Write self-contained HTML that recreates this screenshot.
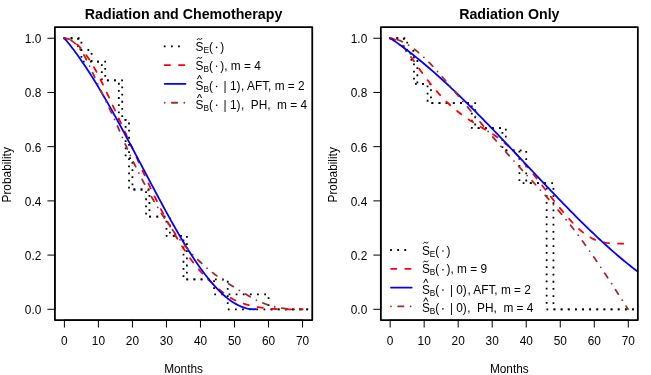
<!DOCTYPE html>
<html><head><meta charset="utf-8"><title>Survival curves</title>
<style>html,body{margin:0;padding:0;background:#fff}svg{display:block;will-change:transform;opacity:0.999}text{font-family:"Liberation Sans",sans-serif}</style></head>
<body>
<svg width="651" height="375" viewBox="0 0 651 375">
<rect width="651" height="375" fill="#fff"/>
<defs>
<clipPath id="c0"><rect x="54.90" y="27.20" width="257.35" height="292.85"/></clipPath>
<clipPath id="c1"><rect x="380.85" y="27.20" width="257.00" height="292.85"/></clipPath>
</defs>
<g clip-path="url(#c0)" fill="none" stroke-width="1.784" stroke-linecap="round" stroke-linejoin="round">
<path d="M64.40 38.25 L78.01 38.25 L78.01 49.99 L81.41 49.99 L81.41 61.72 L101.82 61.72 L101.82 80.48 L118.83 80.48 L118.83 119.89 L125.64 119.89 L125.64 158.14 L129.04 158.14 L129.04 189.50 L146.05 189.50 L146.05 216.57 L166.46 216.57 L166.46 235.79 L183.47 235.79 L183.47 279.38 L214.09 279.38 L214.09 294.34 L227.70 294.34 L227.70 309.30 L307.30 309.30" stroke="#000" stroke-linecap="square" stroke-dasharray="0 7.137"/>
<path d="M64.40 38.25 L81.41 38.25 L81.41 49.99 L91.62 49.99 L91.62 61.72 L105.22 61.72 L105.22 80.48 L122.23 80.48 L122.23 119.89 L129.04 119.89 L129.04 158.14 L132.44 158.14 L132.44 189.50 L149.45 189.50 L149.45 216.57 L169.86 216.57 L169.86 235.79 L186.87 235.79 L186.87 279.38 L227.70 279.38 L227.70 294.34 L268.52 294.34 L268.52 309.30 L307.30 309.30" stroke="#000" stroke-linecap="square" stroke-dasharray="0 7.137"/>
<path d="M64.40 38.25 L66.11 38.33 L67.83 38.76 L69.54 39.39 L71.25 40.22 L72.96 41.24 L74.68 42.45 L76.39 43.84 L78.10 45.40 L79.82 47.13 L81.53 49.03 L83.24 51.09 L84.96 53.30 L86.67 55.66 L88.38 58.17 L90.09 60.81 L91.81 63.59 L93.52 66.50 L95.23 69.53 L96.95 72.68 L98.66 75.95 L100.37 79.31 L102.08 82.77 L103.80 86.29 L105.51 89.87 L107.22 93.51 L108.94 97.17 L110.65 100.87 L112.36 104.58 L114.08 108.30 L115.79 112.03 L117.50 115.75 L119.21 119.47 L120.93 123.20 L122.64 126.92 L124.35 130.65 L126.07 134.38 L127.78 138.12 L129.49 141.86 L131.21 145.62 L132.92 149.39 L134.63 153.17 L136.34 156.95 L138.06 160.74 L139.77 164.53 L141.48 168.31 L143.20 172.08 L144.91 175.83 L146.62 179.56 L148.33 183.26 L150.05 186.93 L151.76 190.57 L153.47 194.16 L155.19 197.70 L156.90 201.20 L158.61 204.64 L160.33 208.02 L162.04 211.34 L163.75 214.62 L165.46 217.83 L167.18 221.00 L168.89 224.12 L170.60 227.18 L172.32 230.20 L174.03 233.16 L175.74 236.07 L177.45 238.93 L179.17 241.74 L180.88 244.49 L182.59 247.18 L184.31 249.81 L186.02 252.38 L187.73 254.89 L189.45 257.33 L191.16 259.71 L192.87 262.02 L194.58 264.26 L196.30 266.44 L198.01 268.53 L199.72 270.56 L201.44 272.51 L203.15 274.38 L204.86 276.17 L206.57 277.90 L208.29 279.57 L210.00 281.20 L211.71 282.79 L213.43 284.36 L215.14 285.90 L216.85 287.42 L218.57 288.90 L220.28 290.33 L221.99 291.73 L223.70 293.07 L225.42 294.35 L227.13 295.57 L228.84 296.72 L230.56 297.79 L232.27 298.79 L233.98 299.71 L235.69 300.56 L237.41 301.34 L239.12 302.06 L240.83 302.72 L242.55 303.33 L244.26 303.90 L245.97 304.41 L247.69 304.89 L249.40 305.34 L251.11 305.75 L252.82 306.13 L254.54 306.49 L256.25 306.82 L257.96 307.13 L259.68 307.41 L261.39 307.66 L263.10 307.90 L264.82 308.11 L266.53 308.31 L268.24 308.48 L269.95 308.63 L271.67 308.77 L273.38 308.89 L275.09 308.99 L276.81 309.08 L278.52 309.15 L280.23 309.22 L281.94 309.27 L283.66 309.30 L285.37 309.30 L287.08 309.30 L288.80 309.30 L290.51 309.30 L292.22 309.30 L293.94 309.30 L295.65 309.30 L297.36 309.30 L299.07 309.30 L300.79 309.27 L302.50 309.25" stroke="#ff0000" stroke-dasharray="5.353 8.921"/>
<path d="M64.40 38.25 L65.78 39.83 L67.16 41.49 L68.53 43.19 L69.91 44.92 L71.29 46.68 L72.67 48.48 L74.04 50.30 L75.42 52.16 L76.80 54.05 L78.18 55.97 L79.55 57.91 L80.93 59.89 L82.31 61.89 L83.69 63.92 L85.07 65.98 L86.44 68.06 L87.82 70.17 L89.20 72.30 L90.58 74.46 L91.95 76.64 L93.33 78.84 L94.71 81.06 L96.09 83.31 L97.46 85.58 L98.84 87.87 L100.22 90.17 L101.60 92.50 L102.98 94.85 L104.35 97.21 L105.73 99.59 L107.11 101.99 L108.49 104.40 L109.86 106.83 L111.24 109.28 L112.62 111.73 L114.00 114.20 L115.37 116.69 L116.75 119.19 L118.13 121.70 L119.51 124.21 L120.89 126.75 L122.26 129.29 L123.64 131.84 L125.02 134.39 L126.40 136.96 L127.77 139.53 L129.15 142.11 L130.53 144.70 L131.91 147.29 L133.28 149.89 L134.66 152.49 L136.04 155.10 L137.42 157.71 L138.80 160.32 L140.17 162.93 L141.55 165.54 L142.93 168.16 L144.31 170.77 L145.68 173.39 L147.06 176.00 L148.44 178.61 L149.82 181.22 L151.19 183.83 L152.57 186.43 L153.95 189.03 L155.33 191.62 L156.71 194.21 L158.08 196.79 L159.46 199.36 L160.84 201.93 L162.22 204.49 L163.59 207.03 L164.97 209.57 L166.35 212.10 L167.73 214.61 L169.11 217.12 L170.48 219.60 L171.86 222.07 L173.24 224.53 L174.62 226.97 L175.99 229.38 L177.37 231.78 L178.75 234.16 L180.13 236.52 L181.50 238.86 L182.88 241.17 L184.26 243.45 L185.64 245.72 L187.02 247.95 L188.39 250.16 L189.77 252.34 L191.15 254.49 L192.53 256.61 L193.90 258.70 L195.28 260.76 L196.66 262.79 L198.04 264.79 L199.41 266.75 L200.79 268.68 L202.17 270.57 L203.55 272.43 L204.93 274.25 L206.30 276.03 L207.68 277.78 L209.06 279.49 L210.44 281.16 L211.81 282.79 L213.19 284.37 L214.57 285.92 L215.95 287.42 L217.32 288.88 L218.70 290.30 L220.08 291.67 L221.46 293.00 L222.84 294.28 L224.21 295.51 L225.59 296.70 L226.97 297.84 L228.35 298.93 L229.72 299.96 L231.10 300.95 L232.48 301.89 L233.86 302.77 L235.23 303.60 L236.61 304.38 L237.99 305.10 L239.37 305.77 L240.75 306.38 L242.12 306.94 L243.50 307.44 L244.88 307.87 L246.26 308.25 L247.63 308.58 L249.01 308.84 L250.39 309.03 L251.77 309.17 L253.14 309.24 L254.52 309.25 L255.90 309.20" stroke="#0000ff"/>
<path d="M64.40 38.25 L66.11 38.30 L67.83 38.75 L69.54 39.46 L71.25 40.41 L72.96 41.61 L74.68 43.07 L76.39 44.77 L78.10 46.72 L79.82 48.91 L81.53 51.36 L83.24 54.04 L84.96 56.97 L86.67 60.14 L88.38 63.55 L90.09 67.15 L91.81 70.89 L93.52 74.71 L95.23 78.56 L96.95 82.38 L98.66 86.12 L100.37 89.78 L102.08 93.37 L103.80 96.92 L105.51 100.44 L107.22 103.95 L108.94 107.49 L110.65 111.06 L112.36 114.70 L114.08 118.42 L115.79 122.24 L117.50 126.18 L119.21 130.22 L120.93 134.27 L122.64 138.22 L124.35 142.09 L126.07 145.97 L127.78 149.84 L129.49 153.63 L131.21 157.33 L132.92 160.95 L134.63 164.50 L136.34 168.00 L138.06 171.45 L139.77 174.85 L141.48 178.21 L143.20 181.52 L144.91 184.78 L146.62 187.99 L148.33 191.15 L150.05 194.25 L151.76 197.30 L153.47 200.30 L155.19 203.24 L156.90 206.12 L158.61 208.95 L160.33 211.72 L162.04 214.43 L163.75 217.10 L165.46 219.70 L167.18 222.26 L168.89 224.76 L170.60 227.21 L172.32 229.61 L174.03 231.96 L175.74 234.26 L177.45 236.51 L179.17 238.71 L180.88 240.86 L182.59 242.96 L184.31 245.02 L186.02 247.03 L187.73 248.99 L189.45 250.91 L191.16 252.78 L192.87 254.61 L194.58 256.40 L196.30 258.14 L198.01 259.84 L199.72 261.49 L201.44 263.11 L203.15 264.69 L204.86 266.22 L206.57 267.72 L208.29 269.17 L210.00 270.59 L211.71 271.97 L213.43 273.31 L215.14 274.62 L216.85 275.89 L218.57 277.12 L220.28 278.32 L221.99 279.49 L223.70 280.63 L225.42 281.75 L227.13 282.85 L228.84 283.92 L230.56 284.99 L232.27 286.04 L233.98 287.08 L235.69 288.12 L237.41 289.15 L239.12 290.19 L240.83 291.22 L242.55 292.26 L244.26 293.30 L245.97 294.32 L247.69 295.33 L249.40 296.32 L251.11 297.29 L252.82 298.23 L254.54 299.13 L256.25 300.00 L257.96 300.83 L259.68 301.61 L261.39 302.35 L263.10 303.05 L264.82 303.71 L266.53 304.33 L268.24 304.90 L269.95 305.44 L271.67 305.94 L273.38 306.41 L275.09 306.83 L276.81 307.22 L278.52 307.58 L280.23 307.90 L281.94 308.18 L283.66 308.44 L285.37 308.66 L287.08 308.85 L288.80 309.01 L290.51 309.14 L292.22 309.23 L293.94 309.30 L295.65 309.30 L297.36 309.30 L299.07 309.30 L300.79 309.30 L302.50 309.25" stroke="#a52a2a" stroke-dasharray="0 7.137 5.353 7.137"/>
</g>
<g stroke="#000" stroke-width="1.000" fill="none" stroke-linecap="round">
<path d="M64.40 320.05 H302.54"/>
<path d="M64.40 320.05 v7.1"/>
<path d="M98.42 320.05 v7.1"/>
<path d="M132.44 320.05 v7.1"/>
<path d="M166.46 320.05 v7.1"/>
<path d="M200.48 320.05 v7.1"/>
<path d="M234.50 320.05 v7.1"/>
<path d="M268.52 320.05 v7.1"/>
<path d="M302.54 320.05 v7.1"/>
<path d="M54.90 309.30 V38.25"/>
<path d="M54.90 309.30 h-7.1"/>
<path d="M54.90 255.09 h-7.1"/>
<path d="M54.90 200.88 h-7.1"/>
<path d="M54.90 146.67 h-7.1"/>
<path d="M54.90 92.46 h-7.1"/>
<path d="M54.90 38.25 h-7.1"/>
</g>
<rect x="54.90" y="27.20" width="257.35" height="292.85" fill="none" stroke="#000" stroke-width="1.784" stroke-linejoin="round"/>
<g font-family="Liberation Sans, sans-serif" font-size="11.85" fill="#000">
<text x="64.40" y="344.5" text-anchor="middle">0</text>
<text x="98.42" y="344.5" text-anchor="middle">10</text>
<text x="132.44" y="344.5" text-anchor="middle">20</text>
<text x="166.46" y="344.5" text-anchor="middle">30</text>
<text x="200.48" y="344.5" text-anchor="middle">40</text>
<text x="234.50" y="344.5" text-anchor="middle">50</text>
<text x="268.52" y="344.5" text-anchor="middle">60</text>
<text x="302.54" y="344.5" text-anchor="middle">70</text>
<text x="41.30" y="314.20" text-anchor="end">0.0</text>
<text x="41.30" y="259.99" text-anchor="end">0.2</text>
<text x="41.30" y="205.78" text-anchor="end">0.4</text>
<text x="41.30" y="151.57" text-anchor="end">0.6</text>
<text x="41.30" y="97.36" text-anchor="end">0.8</text>
<text x="41.30" y="43.15" text-anchor="end">1.0</text>
<text x="183.57" y="373.0" text-anchor="middle">Months</text>
<text transform="translate(10.60 174.82) rotate(-90)" text-anchor="middle">Probability</text>
<text x="183.57" y="19.4" text-anchor="middle" font-weight="bold" font-size="14.22">Radiation and Chemotherapy</text>
</g>
<g clip-path="url(#c1)" fill="none" stroke-width="1.784" stroke-linecap="round" stroke-linejoin="round">
<path d="M390.15 38.25 L403.76 38.25 L403.76 50.80 L410.56 50.80 L410.56 59.85 L413.96 59.85 L413.96 83.89 L427.57 83.89 L427.57 103.09 L471.80 103.09 L471.80 128.18 L502.42 128.18 L502.42 150.36 L519.43 150.36 L519.43 183.13 L546.64 183.13 L546.64 309.30 L633.05 309.30" stroke="#000" stroke-linecap="square" stroke-dasharray="0 7.137"/>
<path d="M390.15 38.25 L407.16 38.25 L407.16 50.80 L413.96 50.80 L413.96 59.85 L417.37 59.85 L417.37 83.89 L430.97 83.89 L430.97 103.09 L475.20 103.09 L475.20 128.18 L505.82 128.18 L505.82 150.36 L526.23 150.36 L526.23 183.13 L553.45 183.13 L553.45 309.30 L633.05 309.30" stroke="#000" stroke-linecap="square" stroke-dasharray="0 7.137"/>
<path d="M390.40 38.25 L392.09 38.44 L393.78 39.06 L395.47 39.95 L397.16 41.08 L398.85 42.44 L400.54 44.00 L402.22 45.74 L403.91 47.64 L405.60 49.68 L407.29 51.84 L408.98 54.10 L410.67 56.44 L412.36 58.83 L414.05 61.26 L415.74 63.71 L417.43 66.15 L419.12 68.56 L420.81 70.94 L422.49 73.28 L424.18 75.58 L425.87 77.84 L427.56 80.07 L429.25 82.24 L430.94 84.38 L432.63 86.46 L434.32 88.50 L436.01 90.49 L437.70 92.43 L439.39 94.31 L441.08 96.15 L442.77 97.92 L444.45 99.65 L446.14 101.32 L447.83 102.95 L449.52 104.52 L451.21 106.05 L452.90 107.53 L454.59 108.97 L456.28 110.37 L457.97 111.73 L459.66 113.05 L461.35 114.33 L463.04 115.57 L464.73 116.78 L466.41 117.96 L468.10 119.11 L469.79 120.22 L471.48 121.31 L473.17 122.38 L474.86 123.41 L476.55 124.43 L478.24 125.43 L479.93 126.41 L481.62 127.40 L483.31 128.38 L485.00 129.36 L486.68 130.35 L488.37 131.36 L490.06 132.39 L491.75 133.44 L493.44 134.52 L495.13 135.64 L496.82 136.80 L498.51 138.00 L500.20 139.25 L501.89 140.56 L503.58 141.93 L505.27 143.37 L506.96 144.86 L508.64 146.42 L510.33 148.03 L512.02 149.70 L513.71 151.41 L515.40 153.18 L517.09 154.99 L518.78 156.84 L520.47 158.73 L522.16 160.67 L523.85 162.63 L525.54 164.63 L527.23 166.66 L528.92 168.72 L530.60 170.80 L532.29 172.90 L533.98 175.02 L535.67 177.16 L537.36 179.31 L539.05 181.48 L540.74 183.65 L542.43 185.82 L544.12 188.00 L545.81 190.19 L547.50 192.37 L549.19 194.54 L550.87 196.71 L552.56 198.86 L554.25 201.01 L555.94 203.14 L557.63 205.25 L559.32 207.34 L561.01 209.40 L562.70 211.44 L564.39 213.45 L566.08 215.43 L567.77 217.38 L569.46 219.28 L571.15 221.14 L572.83 222.95 L574.52 224.70 L576.21 226.39 L577.90 228.01 L579.59 229.56 L581.28 231.04 L582.97 232.43 L584.66 233.74 L586.35 234.96 L588.04 236.08 L589.73 237.10 L591.42 238.03 L593.11 238.86 L594.79 239.62 L596.48 240.29 L598.17 240.89 L599.86 241.41 L601.55 241.86 L603.24 242.26 L604.93 242.59 L606.62 242.87 L608.31 243.09 L610.00 243.27 L611.69 243.41 L613.38 243.51 L615.06 243.57 L616.75 243.61 L618.44 243.62 L620.13 243.61 L621.82 243.59 L623.51 243.55 L625.20 243.50" stroke="#ff0000" stroke-dasharray="5.353 8.921"/>
<path d="M390.40 38.25 L392.18 39.41 L393.97 40.64 L395.75 41.88 L397.54 43.14 L399.32 44.42 L401.11 45.71 L402.89 47.02 L404.68 48.35 L406.46 49.69 L408.25 51.05 L410.03 52.43 L411.82 53.82 L413.60 55.22 L415.39 56.64 L417.17 58.08 L418.96 59.53 L420.74 60.99 L422.53 62.47 L424.31 63.96 L426.10 65.47 L427.88 66.99 L429.67 68.52 L431.45 70.06 L433.24 71.62 L435.02 73.19 L436.81 74.78 L438.59 76.37 L440.38 77.98 L442.16 79.59 L443.95 81.22 L445.73 82.86 L447.52 84.51 L449.30 86.18 L451.09 87.85 L452.87 89.53 L454.66 91.22 L456.44 92.92 L458.23 94.64 L460.01 96.36 L461.80 98.09 L463.58 99.82 L465.37 101.57 L467.15 103.33 L468.94 105.09 L470.72 106.86 L472.51 108.64 L474.29 110.42 L476.07 112.22 L477.86 114.02 L479.64 115.83 L481.43 117.64 L483.21 119.46 L485.00 121.28 L486.78 123.12 L488.57 124.95 L490.35 126.80 L492.14 128.64 L493.92 130.50 L495.71 132.35 L497.49 134.21 L499.28 136.08 L501.06 137.95 L502.85 139.82 L504.63 141.70 L506.42 143.58 L508.20 145.46 L509.99 147.35 L511.77 149.24 L513.56 151.13 L515.34 153.02 L517.13 154.91 L518.91 156.81 L520.70 158.71 L522.48 160.60 L524.27 162.50 L526.05 164.40 L527.84 166.30 L529.62 168.20 L531.41 170.09 L533.19 171.99 L534.98 173.89 L536.76 175.78 L538.55 177.67 L540.33 179.56 L542.12 181.45 L543.90 183.34 L545.69 185.22 L547.47 187.10 L549.26 188.98 L551.04 190.85 L552.83 192.72 L554.61 194.58 L556.39 196.44 L558.18 198.30 L559.96 200.15 L561.75 201.99 L563.53 203.83 L565.32 205.66 L567.10 207.49 L568.89 209.31 L570.67 211.12 L572.46 212.93 L574.24 214.73 L576.03 216.52 L577.81 218.30 L579.60 220.08 L581.38 221.84 L583.17 223.60 L584.95 225.35 L586.74 227.09 L588.52 228.82 L590.31 230.54 L592.09 232.25 L593.88 233.95 L595.66 235.63 L597.45 237.31 L599.23 238.98 L601.02 240.63 L602.80 242.28 L604.59 243.91 L606.37 245.52 L608.16 247.13 L609.94 248.72 L611.73 250.30 L613.51 251.87 L615.30 253.42 L617.08 254.96 L618.87 256.48 L620.65 257.99 L622.44 259.48 L624.22 260.96 L626.01 262.42 L627.79 263.87 L629.58 265.30 L631.36 266.71 L633.15 268.11 L634.93 269.49 L636.72 270.86 L638.50 272.20" stroke="#0000ff"/>
<path d="M390.40 38.25 L392.11 38.34 L393.82 38.68 L395.53 39.11 L397.24 39.63 L398.95 40.24 L400.66 40.93 L402.37 41.71 L404.07 42.56 L405.78 43.49 L407.49 44.49 L409.20 45.57 L410.91 46.71 L412.62 47.93 L414.33 49.20 L416.04 50.54 L417.75 51.93 L419.46 53.39 L421.17 54.89 L422.88 56.45 L424.59 58.06 L426.30 59.71 L428.01 61.41 L429.72 63.14 L431.42 64.92 L433.13 66.73 L434.84 68.57 L436.55 70.45 L438.26 72.35 L439.97 74.28 L441.68 76.23 L443.39 78.21 L445.10 80.20 L446.81 82.21 L448.52 84.23 L450.23 86.26 L451.94 88.29 L453.65 90.34 L455.36 92.38 L457.06 94.43 L458.77 96.48 L460.48 98.53 L462.19 100.58 L463.90 102.63 L465.61 104.68 L467.32 106.73 L469.03 108.79 L470.74 110.83 L472.45 112.88 L474.16 114.93 L475.87 116.97 L477.58 119.01 L479.29 121.05 L481.00 123.08 L482.71 125.11 L484.41 127.14 L486.12 129.16 L487.83 131.17 L489.54 133.18 L491.25 135.19 L492.96 137.19 L494.67 139.18 L496.38 141.16 L498.09 143.14 L499.80 145.11 L501.51 147.07 L503.22 149.02 L504.93 150.97 L506.64 152.90 L508.35 154.83 L510.05 156.74 L511.76 158.65 L513.47 160.54 L515.18 162.43 L516.89 164.31 L518.60 166.19 L520.31 168.06 L522.02 169.92 L523.73 171.78 L525.44 173.64 L527.15 175.50 L528.86 177.36 L530.57 179.22 L532.28 181.08 L533.99 182.95 L535.69 184.81 L537.40 186.68 L539.11 188.56 L540.82 190.45 L542.53 192.34 L544.24 194.24 L545.95 196.15 L547.66 198.07 L549.37 200.00 L551.08 201.95 L552.79 203.90 L554.50 205.88 L556.21 207.87 L557.92 209.87 L559.63 211.89 L561.34 213.93 L563.04 215.99 L564.75 218.07 L566.46 220.18 L568.17 222.30 L569.88 224.45 L571.59 226.62 L573.30 228.82 L575.01 231.04 L576.72 233.29 L578.43 235.57 L580.14 237.87 L581.85 240.19 L583.56 242.54 L585.27 244.91 L586.98 247.31 L588.68 249.72 L590.39 252.15 L592.10 254.61 L593.81 257.08 L595.52 259.57 L597.23 262.07 L598.94 264.59 L600.65 267.13 L602.36 269.68 L604.07 272.25 L605.78 274.82 L607.49 277.41 L609.20 280.01 L610.91 282.62 L612.62 285.24 L614.33 287.87 L616.03 290.51 L617.74 293.15 L619.45 295.80 L621.16 298.45 L622.87 301.11 L624.58 303.77 L626.29 306.44 L628.00 309.11" stroke="#a52a2a" stroke-dasharray="0 7.137 5.353 7.137"/>
</g>
<g stroke="#000" stroke-width="1.000" fill="none" stroke-linecap="round">
<path d="M390.15 320.05 H628.29"/>
<path d="M390.15 320.05 v7.1"/>
<path d="M424.17 320.05 v7.1"/>
<path d="M458.19 320.05 v7.1"/>
<path d="M492.21 320.05 v7.1"/>
<path d="M526.23 320.05 v7.1"/>
<path d="M560.25 320.05 v7.1"/>
<path d="M594.27 320.05 v7.1"/>
<path d="M628.29 320.05 v7.1"/>
<path d="M380.85 309.30 V38.25"/>
<path d="M380.85 309.30 h-7.1"/>
<path d="M380.85 255.09 h-7.1"/>
<path d="M380.85 200.88 h-7.1"/>
<path d="M380.85 146.67 h-7.1"/>
<path d="M380.85 92.46 h-7.1"/>
<path d="M380.85 38.25 h-7.1"/>
</g>
<rect x="380.85" y="27.20" width="257.00" height="292.85" fill="none" stroke="#000" stroke-width="1.784" stroke-linejoin="round"/>
<g font-family="Liberation Sans, sans-serif" font-size="11.85" fill="#000">
<text x="390.15" y="344.5" text-anchor="middle">0</text>
<text x="424.17" y="344.5" text-anchor="middle">10</text>
<text x="458.19" y="344.5" text-anchor="middle">20</text>
<text x="492.21" y="344.5" text-anchor="middle">30</text>
<text x="526.23" y="344.5" text-anchor="middle">40</text>
<text x="560.25" y="344.5" text-anchor="middle">50</text>
<text x="594.27" y="344.5" text-anchor="middle">60</text>
<text x="628.29" y="344.5" text-anchor="middle">70</text>
<text x="367.25" y="314.20" text-anchor="end">0.0</text>
<text x="367.25" y="259.99" text-anchor="end">0.2</text>
<text x="367.25" y="205.78" text-anchor="end">0.4</text>
<text x="367.25" y="151.57" text-anchor="end">0.6</text>
<text x="367.25" y="97.36" text-anchor="end">0.8</text>
<text x="367.25" y="43.15" text-anchor="end">1.0</text>
<text x="509.35" y="373.0" text-anchor="middle">Months</text>
<text transform="translate(336.55 174.82) rotate(-90)" text-anchor="middle">Probability</text>
<text x="509.35" y="19.4" text-anchor="middle" font-weight="bold" font-size="14.22">Radiation Only</text>
</g>
<g fill="none" stroke-width="1.784" stroke-linecap="round">
<path d="M164.70 46.35 H185.45" stroke="#000" stroke-linecap="square" stroke-dasharray="0 7.137"/>
<path d="M164.70 65.15 H185.45" stroke="#ff0000" stroke-dasharray="5.353 8.921"/>
<path d="M164.70 83.95 H185.45" stroke="#0000ff"/>
<path d="M164.70 102.75 H185.45" stroke="#a52a2a" stroke-dasharray="0 7.137 5.353 7.137"/>
</g>
<g font-family="Liberation Sans, sans-serif" font-size="11.85" fill="#000">
<text x="195.60" y="50.90">S</text>
<text x="203.50" y="52.90" font-size="8.29">E</text>
<text x="209.00" y="50.90">(</text>
<circle cx="216.60" cy="47.40" r="0.8"/>
<text x="220.30" y="50.90" xml:space="preserve" style="white-space:pre">)</text>
<path d="M197.20 39.60 c0.5 -1.1 1.3 -1.2 2.3 -0.55 s1.8 0.55 2.3 -0.55" fill="none" stroke="#000" stroke-width="1.0" stroke-linecap="round"/>
<text x="195.60" y="69.70">S</text>
<text x="203.50" y="71.70" font-size="8.29">B</text>
<text x="209.00" y="69.70">(</text>
<circle cx="216.60" cy="66.20" r="0.8"/>
<text x="220.30" y="69.70" xml:space="preserve" style="white-space:pre">), m = 4</text>
<path d="M197.20 58.40 c0.5 -1.1 1.3 -1.2 2.3 -0.55 s1.8 0.55 2.3 -0.55" fill="none" stroke="#000" stroke-width="1.0" stroke-linecap="round"/>
<text x="195.60" y="89.95">S</text>
<text x="203.50" y="91.95" font-size="8.29">B</text>
<text x="209.00" y="89.95">(</text>
<circle cx="216.60" cy="86.45" r="0.8"/>
<text x="220.30" y="89.95" xml:space="preserve" style="white-space:pre"> | 1)<tspan dx="0.6">, AFT, m = 2</tspan></text>
<path d="M197.40 79.20 l2.1 -3.95 l2.1 3.95" fill="none" stroke="#000" stroke-width="1.0" stroke-linecap="butt" stroke-linejoin="miter"/>
<text x="195.60" y="108.75">S</text>
<text x="203.50" y="110.75" font-size="8.29">B</text>
<text x="209.00" y="108.75">(</text>
<circle cx="216.60" cy="105.25" r="0.8"/>
<text x="220.30" y="108.75" xml:space="preserve" style="white-space:pre"> | 1)<tspan dx="0.4">,  PH,  m = 4</tspan></text>
<path d="M197.40 98.00 l2.1 -3.95 l2.1 3.95" fill="none" stroke="#000" stroke-width="1.0" stroke-linecap="butt" stroke-linejoin="miter"/>
</g>
<g fill="none" stroke-width="1.784" stroke-linecap="round">
<path d="M391.00 250.00 H411.75" stroke="#000" stroke-linecap="square" stroke-dasharray="0 7.137"/>
<path d="M391.00 268.80 H411.75" stroke="#ff0000" stroke-dasharray="5.353 8.921"/>
<path d="M391.00 287.60 H411.75" stroke="#0000ff"/>
<path d="M391.00 306.40 H411.75" stroke="#a52a2a" stroke-dasharray="0 7.137 5.353 7.137"/>
</g>
<g font-family="Liberation Sans, sans-serif" font-size="11.85" fill="#000">
<text x="421.90" y="254.55">S</text>
<text x="429.80" y="256.55" font-size="8.29">E</text>
<text x="435.30" y="254.55">(</text>
<circle cx="442.90" cy="251.05" r="0.8"/>
<text x="446.60" y="254.55" xml:space="preserve" style="white-space:pre">)</text>
<path d="M423.50 243.25 c0.5 -1.1 1.3 -1.2 2.3 -0.55 s1.8 0.55 2.3 -0.55" fill="none" stroke="#000" stroke-width="1.0" stroke-linecap="round"/>
<text x="421.90" y="273.35">S</text>
<text x="429.80" y="275.35" font-size="8.29">B</text>
<text x="435.30" y="273.35">(</text>
<circle cx="442.90" cy="269.85" r="0.8"/>
<text x="446.60" y="273.35" xml:space="preserve" style="white-space:pre">), m = 9</text>
<path d="M423.50 262.05 c0.5 -1.1 1.3 -1.2 2.3 -0.55 s1.8 0.55 2.3 -0.55" fill="none" stroke="#000" stroke-width="1.0" stroke-linecap="round"/>
<text x="421.90" y="293.60">S</text>
<text x="429.80" y="295.60" font-size="8.29">B</text>
<text x="435.30" y="293.60">(</text>
<circle cx="442.90" cy="290.10" r="0.8"/>
<text x="446.60" y="293.60" xml:space="preserve" style="white-space:pre"> | 0)<tspan dx="0.6">, AFT, m = 2</tspan></text>
<path d="M423.70 282.85 l2.1 -3.95 l2.1 3.95" fill="none" stroke="#000" stroke-width="1.0" stroke-linecap="butt" stroke-linejoin="miter"/>
<text x="421.90" y="312.40">S</text>
<text x="429.80" y="314.40" font-size="8.29">B</text>
<text x="435.30" y="312.40">(</text>
<circle cx="442.90" cy="308.90" r="0.8"/>
<text x="446.60" y="312.40" xml:space="preserve" style="white-space:pre"> | 0)<tspan dx="0.4">,  PH,  m = 4</tspan></text>
<path d="M423.70 301.65 l2.1 -3.95 l2.1 3.95" fill="none" stroke="#000" stroke-width="1.0" stroke-linecap="butt" stroke-linejoin="miter"/>
</g>
</svg>
</body></html>
